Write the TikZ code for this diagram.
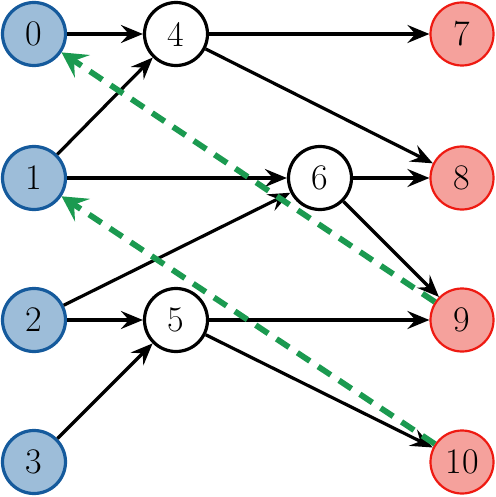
\documentclass[tikz,border=0pt]{standalone}
\usetikzlibrary{arrows.meta}
\definecolor{srcfill}{HTML}{9DBDD9}
\definecolor{srcdraw}{HTML}{155A9C}
\definecolor{dstfill}{HTML}{F5A19C}
\definecolor{dstdraw}{HTML}{EE1A12}
\definecolor{backg}{HTML}{1B9A50}
\tikzset{
  vtx/.style={circle, draw=black, line width=1.6pt, fill=white, minimum size=31.5pt, inner sep=0pt, font=\fontsize{18}{21}\selectfont},
  src/.style={vtx, draw=srcdraw, fill=srcfill},
  dst/.style={vtx, draw=dstdraw, fill=dstfill, line width=1.1pt},
  fwd/.style={-{Stealth[length=11pt,width=9pt,inset=4pt]}, line width=1.6pt, black},
  bwd/.style={-{Stealth[length=12.5pt,width=13.5pt,inset=5pt]}, line width=2.9pt, backg, dash pattern=on 7.5pt off 5pt},
}
\begin{document}
\begin{tikzpicture}[x=0.5pt,y=-0.5pt]
\useasboundingbox (0,0) rectangle (496,497);
\node[src] (n0) at (34,34) {0};
\node[src] (n1) at (34,178) {1};
\node[src] (n2) at (34,320) {2};
\node[src] (n3) at (34,462) {3};
\node[vtx] (n4) at (176,34) {4};
\node[vtx] (n5) at (176,320) {5};
\node[vtx] (n6) at (320,178) {6};
\node[dst] (n7) at (462,34) {7};
\node[dst] (n8) at (462,178) {8};
\node[dst] (n9) at (462,320) {9};
\node[dst] (n10) at (462,462) {10};
\draw[fwd] (n0) -- (n4);
\draw[fwd] (n4) -- (n7);
\draw[fwd] (n4) -- (n8);
\draw[fwd] (n1) -- (n4);
\draw[fwd] (n1) -- (n6);
\draw[fwd] (n6) -- (n8);
\draw[fwd] (n6) -- (n9);
\draw[fwd] (n2) -- (n6);
\draw[fwd] (n2) -- (n5);
\draw[fwd] (n3) -- (n5);
\draw[fwd] (n5) -- (n9);
\draw[fwd] (n5) -- (n10);
\draw[bwd] (n9) -- (n0);
\draw[bwd] (n10) -- (n1);
\end{tikzpicture}
\end{document}
